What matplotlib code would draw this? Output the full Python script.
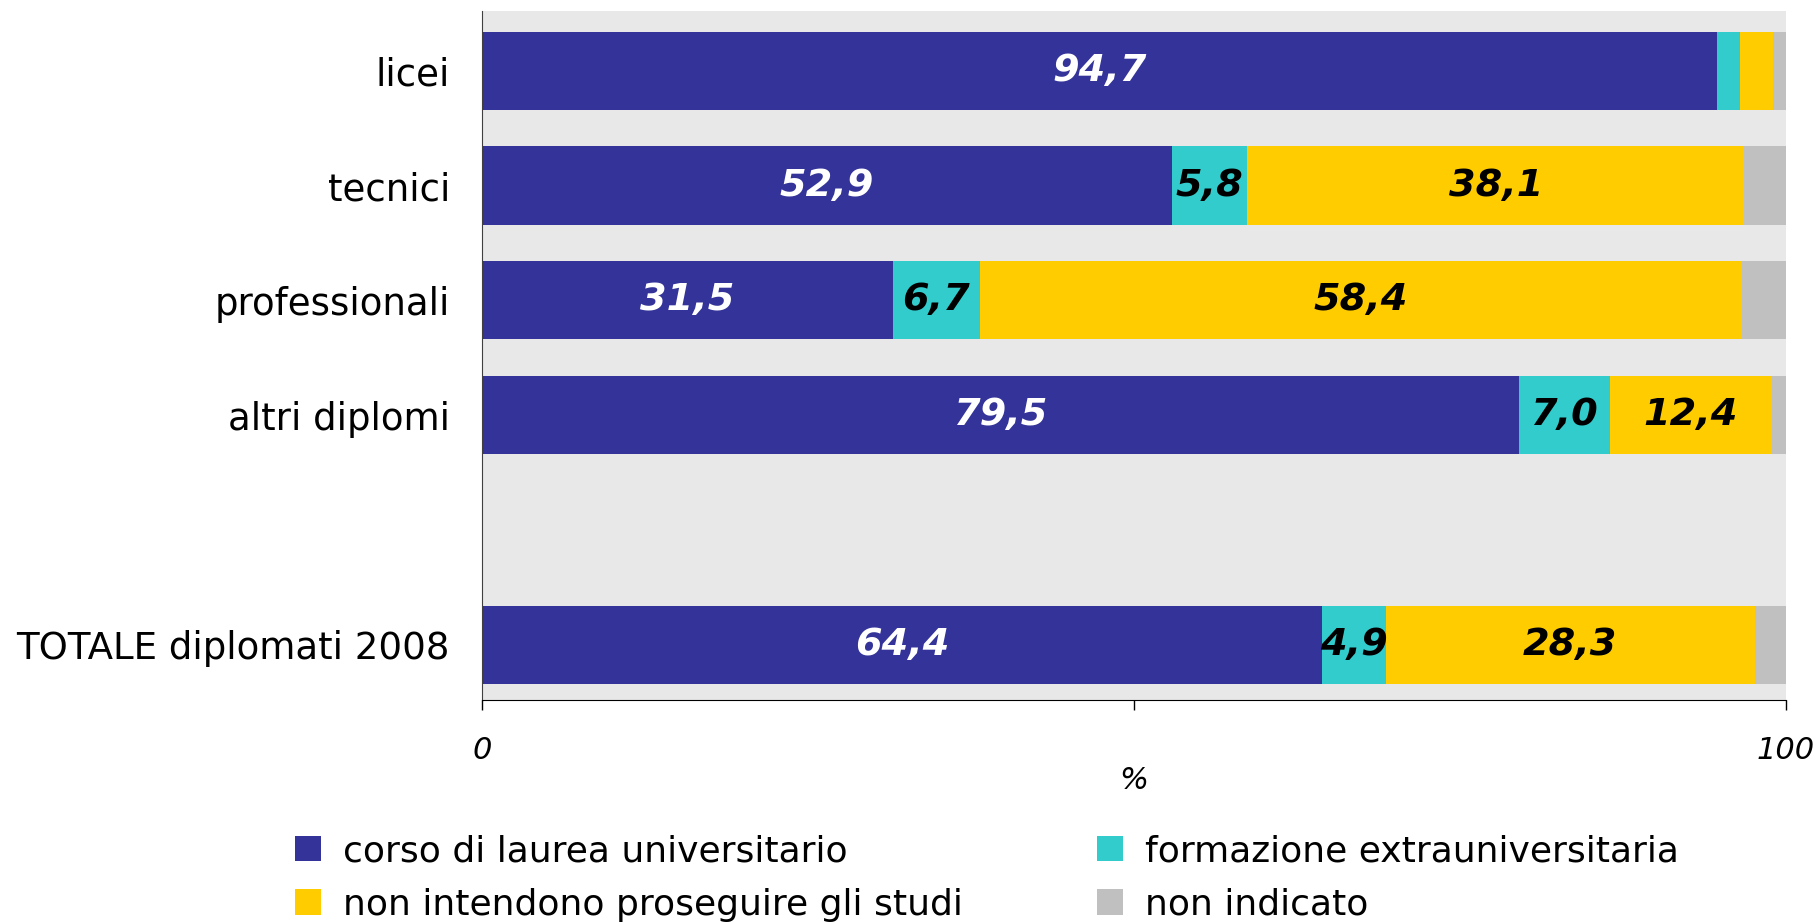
# -*- coding: utf-8 -*-
# Diplomati 2008: intenzioni dopo il diploma, per tipo di scuola
import numpy as np
import matplotlib
matplotlib.use('Agg')
import matplotlib.pyplot as plt
from matplotlib.patches import Patch

# Data
categories = ['licei', 'tecnici', 'professionali', 'altri diplomi', 'TOTALE diplomati 2008']
positions = [0, 1, 2, 3, 5]   # row 4 is left empty
laurea = [94.7, 52.9, 31.5, 79.5, 64.4]
extra = [1.8, 5.8, 6.7, 7.0, 4.9]
non_proseguono = [2.5, 38.1, 58.4, 12.4, 28.3]
non_indicato = [1.0, 3.2, 3.4, 1.1, 2.4]

series = [laurea, extra, non_proseguono, non_indicato]
names = ['corso di laurea universitario', 'formazione extrauniversitaria',
         'non intendono proseguire gli studi', 'non indicato']
colors = ['#333399', '#33CCCC', '#FFCC00', '#C0C0C0']
text_colors = ['white', 'black', 'black', 'black']

plt.rcParams['font.family'] = 'DejaVu Sans'

fig = plt.figure(figsize=(18.2, 9.22), dpi=100)
ax = fig.add_axes([0.2648, 0.2408, 0.7165, 0.7473])
ax.set_facecolor('#E8E8E8')

left = np.zeros(len(categories))
for vals, col, tcol in zip(series, colors, text_colors):
    vals = np.array(vals)
    ax.barh(positions, vals, left=left, height=0.68, color=col, linewidth=0)
    for y, l, v in zip(positions, left, vals):
        if v >= 4:
            ax.text(l + v / 2, y, f'{v:.1f}'.replace('.', ','), ha='center', va='center',
                    color=tcol, fontsize=27.5, fontweight='bold', fontstyle='italic')
    left = left + vals

ax.set_xlim(0, 100)
ax.set_ylim(5.48, -0.52)
ax.set_yticks(positions)
ax.set_yticklabels(categories, fontsize=26.7)
ax.tick_params(axis='y', length=0, pad=23)
ax.set_xticks([0, 50, 100])
ax.set_xticklabels(['0', '', '100'], fontsize=22, fontstyle='italic')
ax.tick_params(axis='x', length=7, width=1, pad=19)
ax.set_xlabel('%', fontsize=22, fontstyle='italic', labelpad=1)

for s in ['top', 'right']:
    ax.spines[s].set_visible(False)
ax.spines['left'].set_color('#404040')
ax.spines['bottom'].set_color('black')

# legend is filled column by column, so reorder to read row by row
order = [0, 2, 1, 3]
handles = [Patch(facecolor=colors[i], edgecolor='none') for i in order]
labels = [names[i] for i in order]
fig.legend(handles, labels, loc='upper left', bbox_to_anchor=(295 / 1820, 1 - 834 / 922),
           ncol=2, frameon=False, fontsize=26, handlelength=0.72, handleheight=0.72,
           handletextpad=0.62, columnspacing=3.7, labelspacing=0.55, borderpad=0,
           borderaxespad=0)

fig.savefig('out.png', dpi=100)
